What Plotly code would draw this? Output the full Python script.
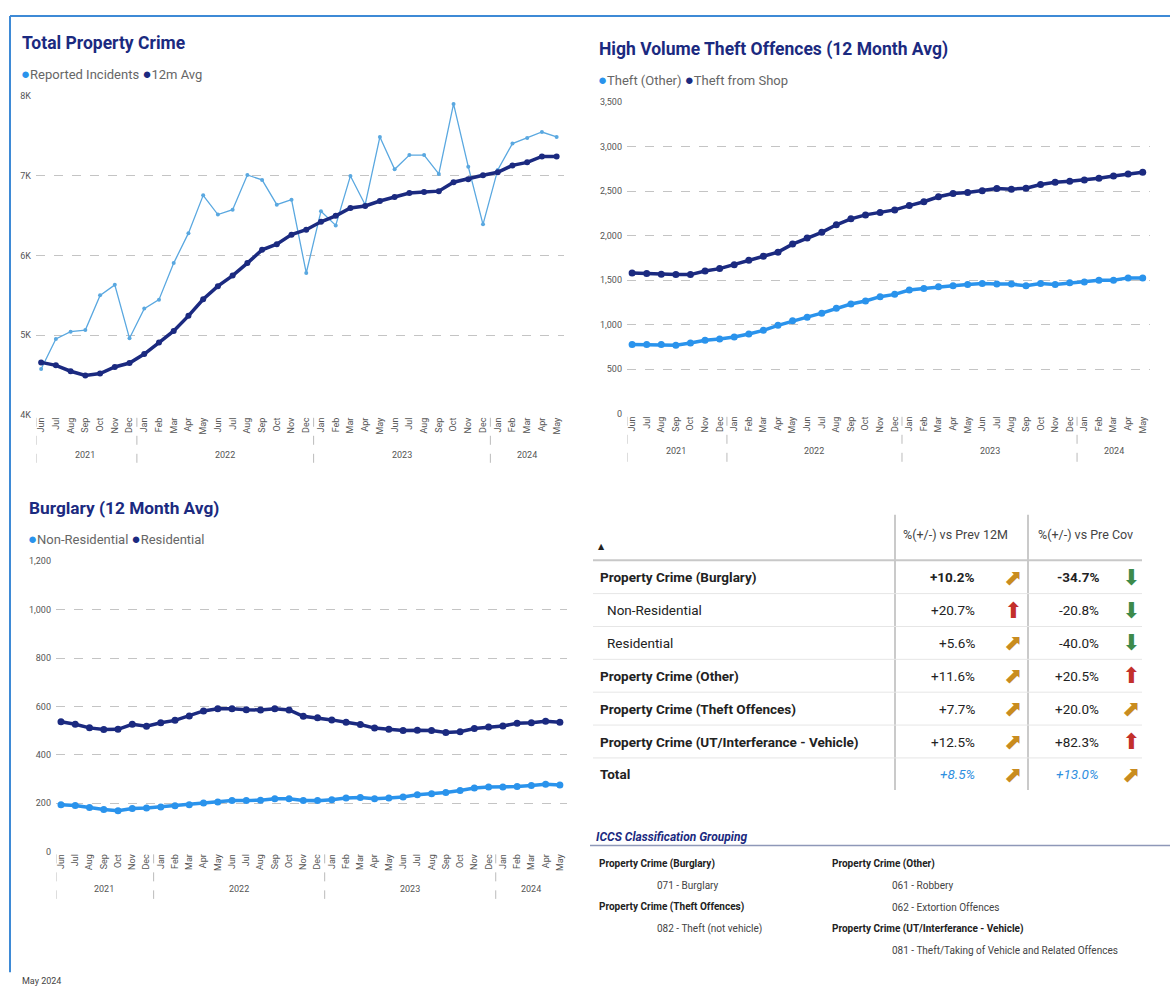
import plotly.graph_objects as go

W, H = 1170, 992


def px(x):
    return x / W


def py(y):
    return 1 - y / H


# ---------------- DATA ----------------
months = (["Jun", "Jul", "Aug", "Sep", "Oct", "Nov", "Dec"]
          + ["Jan", "Feb", "Mar", "Apr", "May", "Jun", "Jul", "Aug", "Sep", "Oct", "Nov", "Dec"] * 2
          + ["Jan", "Feb", "Mar", "Apr", "May"])
years = ["2021", "2022", "2023", "2024"]
year_sizes = [7, 12, 12, 5]

reported = [4575, 4953, 5043, 5064, 5499, 5631, 4960,
            5333, 5445, 5904, 6280, 6754, 6513, 6575, 7010, 6948, 6637, 6700, 5780,
            6555, 6377, 6998, 6637, 7487, 7081, 7259, 7259, 7023, 7901, 7114, 6390,
            7073, 7404, 7474, 7549, 7487]
avg12 = [4658, 4621, 4547, 4493, 4518, 4600, 4650,
         4762, 4907, 5052, 5242, 5450, 5615, 5747, 5904, 6070, 6141, 6261, 6323,
         6422, 6497, 6596, 6621, 6683, 6733, 6783, 6795, 6807, 6919, 6957, 7006,
         7044, 7130, 7168, 7242, 7242]

theft_other = [778, 778, 778, 770, 796, 826, 841,
               863, 896, 937, 993, 1044, 1085, 1130, 1185, 1233, 1267, 1315, 1341,
               1389, 1407, 1426, 1437, 1452, 1463, 1456, 1456, 1437, 1463, 1452, 1470,
               1481, 1500, 1500, 1526, 1526]
theft_shop = [1581, 1574, 1567, 1563, 1563, 1604, 1630,
              1674, 1724, 1770, 1815, 1905, 1974, 2037, 2122, 2189, 2233, 2259, 2289,
              2337, 2381, 2437, 2474, 2485, 2504, 2530, 2522, 2533, 2574, 2600, 2611,
              2626, 2644, 2670, 2693, 2711]

non_residential = [193, 190, 182, 173, 168, 177, 179,
                   184, 189, 193, 200, 204, 210, 210, 212, 218, 218, 211, 210,
                   214, 221, 223, 218, 221, 225, 234, 238, 244, 252, 262, 266,
                   266, 268, 273, 278, 275]
residential = [536, 526, 511, 504, 505, 526, 518,
               532, 542, 560, 581, 590, 590, 586, 585, 590, 585, 559, 553,
               544, 534, 525, 510, 505, 500, 501, 500, 492, 495, 508, 515,
               519, 530, 532, 538, 534]

table_rows = ["Property Crime (Burglary)", "Non-Residential", "Residential",
              "Property Crime (Other)", "Property Crime (Theft Offences)",
              "Property Crime (UT/Interferance - Vehicle)", "Total"]
row_level = [0, 1, 1, 0, 0, 0, 2]
prev12 = ["+10.2%", "+20.7%", "+5.6%", "+11.6%", "+7.7%", "+12.5%", "+8.5%"]
prev12_icon = ["ne", "up", "ne", "ne", "ne", "ne", "ne"]
precov = ["-34.7%", "-20.8%", "-40.0%", "+20.5%", "+20.0%", "+82.3%", "+13.0%"]
precov_icon = ["down", "down", "down", "up", "ne", "up", "ne"]
col_headers = ["%(+/-) vs Prev 12M", "%(+/-) vs Pre Cov"]

iccs_left = [("Property Crime (Burglary)", ["071 - Burglary"]),
             ("Property Crime (Theft Offences)", ["082 - Theft (not vehicle)"])]
iccs_right = [("Property Crime (Other)", ["061 - Robbery", "062 - Extortion Offences"]),
              ("Property Crime (UT/Interferance - Vehicle)", ["081 - Theft/Taking of Vehicle and Related Offences"])]

# ---------------- STYLE ----------------
NAVY = "#1B2A80"
LIGHT = "#2A93EC"
LIGHT1 = "#5AA8E0"
TITLE_FONT = "Roboto, sans-serif"
TXT = "Roboto, Open Sans, sans-serif"
ARROW_FONT = "DejaVu Sans"
ICON = {"ne": ("\u2B08", "#C98C1F"), "up": ("\u2B06", "#C3302B"), "down": ("\u2B07", "#3D8A4B")}

x = list(range(len(months)))

fig = go.Figure()

# Chart 1
fig.add_trace(go.Scatter(x=x, y=reported, xaxis="x", yaxis="y", mode="lines+markers",
                         line=dict(color=LIGHT1, width=1.3), marker=dict(size=4, color=LIGHT1),
                         name="Reported Incidents", showlegend=False))
fig.add_trace(go.Scatter(x=x, y=avg12, xaxis="x", yaxis="y", mode="lines+markers",
                         line=dict(color=NAVY, width=3.5), marker=dict(size=6, color=NAVY),
                         name="12m Avg", showlegend=False))
# Chart 2
fig.add_trace(go.Scatter(x=x, y=theft_other, xaxis="x2", yaxis="y2", mode="lines+markers",
                         line=dict(color=LIGHT, width=3.5), marker=dict(size=7, color=LIGHT),
                         name="Theft (Other)", showlegend=False))
fig.add_trace(go.Scatter(x=x, y=theft_shop, xaxis="x2", yaxis="y2", mode="lines+markers",
                         line=dict(color=NAVY, width=3.5), marker=dict(size=7, color=NAVY),
                         name="Theft from Shop", showlegend=False))
# Chart 3
fig.add_trace(go.Scatter(x=x, y=non_residential, xaxis="x3", yaxis="y3", mode="lines+markers",
                         line=dict(color=LIGHT, width=3.5), marker=dict(size=7, color=LIGHT),
                         name="Non-Residential", showlegend=False))
fig.add_trace(go.Scatter(x=x, y=residential, xaxis="x3", yaxis="y3", mode="lines+markers",
                         line=dict(color=NAVY, width=3.5), marker=dict(size=7, color=NAVY),
                         name="Residential", showlegend=False))

xr = [-0.35, 35.5]


def xaxis_cfg(x0, x1, anchor):
    return dict(domain=[px(x0), px(x1)], range=xr, tickmode="array", tickvals=x, ticktext=months,
                tickangle=-90, tickfont=dict(size=9, color="#555", family=TXT), showgrid=False,
                zeroline=False, showline=False, ticks="", anchor=anchor, fixedrange=True)


def yaxis_cfg(ytop, ybot, rng, tv, tt, anchor):
    return dict(domain=[py(ybot), py(ytop)], range=rng, tickmode="array", tickvals=tv, ticktext=tt,
                showgrid=True, gridcolor="#C4C4C4", griddash="dash", gridwidth=1, zeroline=False,
                showline=False, tickfont=dict(size=9, color="#555", family=TXT), anchor=anchor,
                fixedrange=True, ticklabelstandoff=4)


y1v = [4000, 5000, 6000, 7000, 8000]
y2v = [0, 500, 1000, 1500, 2000, 2500, 3000, 3500]
y3v = [0, 200, 400, 600, 800, 1000, 1200]

charts = [
    ("x", "y", 36, 564, 92, 414, [4000, 8000], y1v, [f"{v // 1000}K" for v in y1v], 455, 465),
    ("x2", "y2", 627, 1150, 98, 413, [0, 3500], y2v, [f"{v:,}" for v in y2v], 451, 462),
    ("x3", "y3", 56, 567, 562, 855, [0, 1200], y3v, [f"{v:,}" for v in y3v], 893, 903),
]

layout_axes = {}
shapes = []
annotations = []
for xa, ya, x0, x1, yt, yb, rng, tv, tt, yy, sb in charts:
    xkey = "xaxis" if xa == "x" else "xaxis" + xa[1:]
    ykey = "yaxis" if ya == "y" else "yaxis" + ya[1:]
    layout_axes[xkey] = xaxis_cfg(x0, x1, ya)
    layout_axes[ykey] = yaxis_cfg(yt, yb, rng, tv, tt, xa)
    start = 0
    bounds = [xr[0]]
    for yr, n in zip(years, year_sizes):
        center = start + (n - 1) / 2
        annotations.append(dict(x=center, y=py(yy), xref=xa, yref="paper", text=yr, showarrow=False,
                                font=dict(size=9, color="#555", family=TXT), xanchor="center", yanchor="middle"))
        start += n
        if start < len(months):
            bounds.append(start - 0.5)
    for b in bounds:
        shapes.append(dict(type="line", xref=xa, yref="paper", x0=b, x1=b, y0=py(yb + 3), y1=py(sb),
                           line=dict(color="#BBBBBB", width=1, dash="dash")))

# Titles and legends
titles = [("Total Property Crime", 20, 38, 17.5, [("Reported Incidents", LIGHT), ("12m Avg", NAVY)], 70),
          ("High Volume Theft Offences (12 Month Avg)", 597, 45, 17.5, [("Theft (Other)", LIGHT), ("Theft from Shop", NAVY)], 76),
          ("Burglary (12 Month Avg)", 27, 508, 17.3, [("Non-Residential", LIGHT), ("Residential", NAVY)], 539)]
for t, tx, ty, ts, leg, ly in titles:
    annotations.append(dict(x=px(tx), y=py(ty), xref="paper", yref="paper", text=f"<b>{t}</b>", showarrow=False,
                            xanchor="left", yanchor="middle", font=dict(size=ts, color=NAVY, family=TITLE_FONT)))
    ltxt = " ".join(f"<span style='color:{c};font-size:15px'>\u25CF</span>{n}" for n, c in leg)
    annotations.append(dict(x=px(tx - 1), y=py(ly), xref="paper", yref="paper", text=ltxt, showarrow=False,
                            xanchor="left", yanchor="middle", font=dict(size=13, color="#666", family=TXT)))

# ---------------- TABLE ----------------
annotations.append(dict(x=px(955), y=py(535), xref="paper", yref="paper", text=col_headers[0], showarrow=False,
                        xanchor="center", yanchor="middle", font=dict(size=12.5, color="#444", family=TXT)))
annotations.append(dict(x=px(1085), y=py(535), xref="paper", yref="paper", text=col_headers[1], showarrow=False,
                        xanchor="center", yanchor="middle", font=dict(size=12.5, color="#444", family=TXT)))
annotations.append(dict(x=px(602), y=py(547), xref="paper", yref="paper", text="\u25B2", showarrow=False,
                        xanchor="center", yanchor="middle", font=dict(size=8, color="#222", family=ARROW_FONT)))
for vx in (895, 1028):
    shapes.append(dict(type="line", xref="paper", yref="paper", x0=px(vx), x1=px(vx), y0=py(515), y1=py(793),
                       line=dict(color="#B8B8B8", width=1.5)))
shapes.append(dict(type="line", xref="paper", yref="paper", x0=px(593), x1=px(1142), y0=py(561), y1=py(561),
                   line=dict(color="#C8C8C8", width=2)))
row_h = 33.2
first_y = 578
for i, (lab, lvl, v1, i1, v2, i2) in enumerate(zip(table_rows, row_level, prev12, prev12_icon, precov, precov_icon)):
    cy = first_y + i * row_h
    if i > 0:
        shapes.append(dict(type="line", xref="paper", yref="paper", x0=px(593), x1=px(1142),
                           y0=py(cy - row_h / 2), y1=py(cy - row_h / 2), line=dict(color="#E6E6E6", width=1)))
    if lvl == 1:
        ltxt, lx = lab, 605
    else:
        ltxt, lx = f"<b>{lab}</b>", 598
    annotations.append(dict(x=px(lx), y=py(cy), xref="paper", yref="paper", text=ltxt, showarrow=False,
                            xanchor="left", yanchor="middle", font=dict(size=13.5, color="#222", family=TXT)))
    for val, ic, rx, ax in ((v1, i1, 977, 1013), (v2, i2, 1101, 1131)):
        if lvl == 2:
            vt, vc = f"<i>{val}</i>", "#2F8FE0"
        elif i == 0:
            vt, vc = f"<b>{val}</b>", "#222"
        else:
            vt, vc = val, "#222"
        annotations.append(dict(x=px(rx), y=py(cy), xref="paper", yref="paper", text=vt, showarrow=False,
                                xanchor="right", yanchor="middle", font=dict(size=13.5, color=vc, family=TXT)))
        g, gc = ICON[ic]
        annotations.append(dict(x=px(ax), y=py(cy), xref="paper", yref="paper", text=g, showarrow=False,
                                xanchor="center", yanchor="middle", font=dict(size=22, color=gc, family=ARROW_FONT)))

# ---------------- ICCS ----------------
annotations.append(dict(x=px(594), y=py(840), xref="paper", yref="paper",
                        text="<b><i>ICCS Classification Grouping</i></b>", showarrow=False,
                        xanchor="left", yanchor="middle", font=dict(size=12, color=NAVY, family=TXT)))
shapes.append(dict(type="line", xref="paper", yref="paper", x0=px(590), x1=px(1170), y0=py(849), y1=py(849),
                   line=dict(color="#8E98B8", width=1.5)))
line_h = 21.7
for groups, hx, ix in ((iccs_left, 597, 655), (iccs_right, 830, 890)):
    cy = 868
    for head, items in groups:
        annotations.append(dict(x=px(hx), y=py(cy), xref="paper", yref="paper", text=f"<b>{head}</b>",
                                showarrow=False, xanchor="left", yanchor="middle",
                                font=dict(size=10, color="#222", family=TXT)))
        cy += line_h
        for it in items:
            annotations.append(dict(x=px(ix), y=py(cy), xref="paper", yref="paper", text=it,
                                    showarrow=False, xanchor="left", yanchor="middle",
                                    font=dict(size=10, color="#444", family=TXT)))
            cy += line_h

# footer + frame
annotations.append(dict(x=px(20), y=py(986), xref="paper", yref="paper", text="May 2024", showarrow=False,
                        xanchor="left", yanchor="middle", font=dict(size=9, color="#444", family=TXT)))
shapes.append(dict(type="line", xref="paper", yref="paper", x0=px(10), x1=px(1170), y0=py(11), y1=py(11),
                   line=dict(color="#3E8AD6", width=2)))
shapes.append(dict(type="line", xref="paper", yref="paper", x0=px(10), x1=px(10), y0=py(11), y1=py(977),
                   line=dict(color="#3E8AD6", width=2)))

fig.update_layout(width=W, height=H, margin=dict(l=0, r=0, t=0, b=0), paper_bgcolor="white",
                  plot_bgcolor="white", showlegend=False, shapes=shapes, annotations=annotations,
                  font=dict(family=TXT), **layout_axes)

post = ("document.body.style.margin='0';document.body.style.padding='0';"
        "document.body.style.overflow='hidden';"
        "var gd=document.getElementById('{plot_id}');"
        "var p=gd.parentElement;p.style.fontSize='0';p.style.lineHeight='0';p.style.margin='0';p.style.padding='0';"
        "var r=gd.getBoundingClientRect();if(r.top!==0){gd.style.marginTop=(-r.top)+'px';}")
fig.write_html("out.html", config={"displayModeBar": False}, post_script=post)
